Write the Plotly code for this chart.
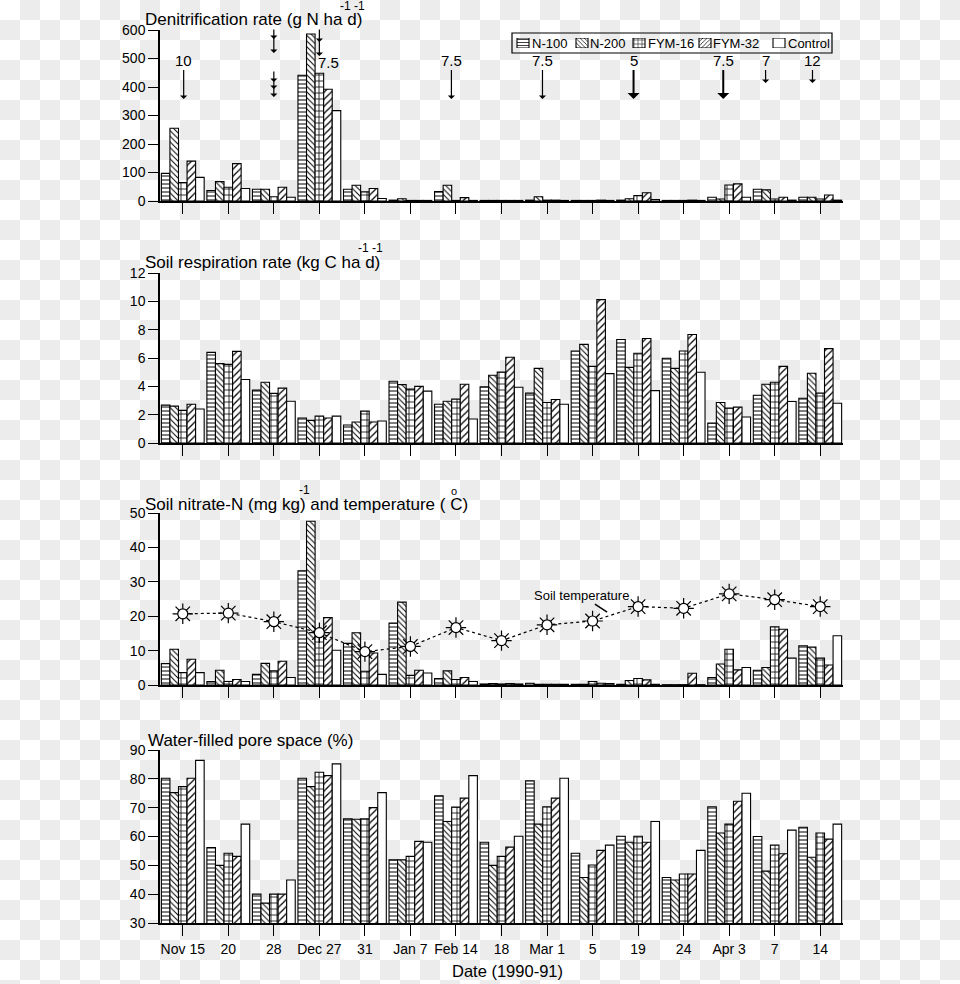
import base64
import plotly.graph_objects as go
from plotly.subplots import make_subplots

# ---------------- data ----------------
dates = ["Nov 15", "20", "28", "Dec 27", "31", "Jan 7", "Feb 14", "18",
         "Mar 1", "5", "19", "24", "Apr 3", "7", "14"]
treatments = ["N-100", "N-200", "FYM-16", "FYM-32", "Control"]

denit_n100 = [97, 37, 41, 441, 41, 3, 33, 2, 3, 2, 3, 2, 13, 41, 13]
denit_n200 = [255, 68, 41, 586, 55, 8, 55, 2, 15, 2, 8, 2, 7, 39, 13]
denit_fym16 = [65, 48, 15, 448, 32, 2, 2, 2, 3, 2, 19, 2, 56, 7, 7]
denit_fym32 = [140, 131, 48, 392, 44, 2, 12, 2, 3, 3, 29, 3, 60, 13, 21]
denit_control = [83, 44, 13, 317, 9, 2, 2, 2, 2, 2, 5, 2, 13, 3, 3]

resp_n100 = [2.67, 6.4, 3.73, 1.76, 1.27, 4.36, 2.74, 3.96, 3.52, 6.49, 7.31, 5.98, 1.4, 3.37, 3.16]
resp_n200 = [2.6, 5.6, 4.29, 1.6, 1.48, 4.12, 2.95, 4.78, 5.27, 6.96, 5.34, 5.27, 2.86, 4.15, 4.92]
resp_fym16 = [2.3, 5.55, 3.5, 1.9, 2.25, 3.8, 3.1, 5.0, 2.86, 5.41, 6.33, 6.49, 2.46, 4.29, 3.52]
resp_fym32 = [2.74, 6.47, 3.87, 1.76, 1.48, 4.0, 4.15, 6.05, 3.07, 10.12, 7.38, 7.66, 2.53, 5.41, 6.66]
resp_control = [2.4, 4.48, 2.95, 1.9, 1.55, 3.66, 1.69, 3.94, 2.74, 4.9, 3.7, 4.99, 1.83, 2.93, 2.81]

nitr_n100 = [6.2, 1.0, 3.1, 33.2, 12.1, 18.0, 1.9, 0.3, 0.5, 0.2, 0.2, 0.1, 2.2, 4.3, 11.4]
nitr_n200 = [10.4, 4.3, 6.3, 47.6, 15.2, 24.1, 4.1, 0.4, 0.2, 0.2, 1.3, 0.1, 6.1, 5.1, 11.0]
nitr_fym16 = [3.6, 1.0, 4.1, 14.1, 4.0, 2.8, 1.6, 0.3, 0.2, 1.0, 1.9, 0.1, 10.4, 16.9, 7.8]
nitr_fym32 = [7.5, 1.6, 6.9, 19.6, 9.3, 4.3, 2.2, 0.4, 0.2, 0.5, 1.5, 3.4, 4.4, 16.2, 5.8]
nitr_control = [3.6, 1.0, 2.2, 10.1, 3.1, 3.5, 1.0, 0.3, 0.2, 0.4, 0.2, 0.1, 5.1, 7.8, 14.3]

soil_temp = [20.7, 20.9, 18.4, 15.2, 9.7, 11.2, 16.7, 12.9, 17.5, 18.6, 22.8, 22.3, 26.5, 24.8, 22.8]

wfps_n100 = [80.2, 56.2, 40.0, 80.2, 66.1, 51.9, 74.1, 58.0, 79.3, 54.2, 60.1, 45.8, 70.3, 60.0, 63.2]
wfps_n200 = [75.2, 50.0, 36.9, 77.3, 66.0, 51.9, 65.2, 50.0, 64.3, 45.8, 58.0, 44.9, 61.2, 48.0, 52.8]
wfps_fym16 = [77.3, 54.2, 40.0, 82.3, 66.1, 53.1, 70.2, 53.1, 70.3, 50.1, 60.1, 47.0, 64.3, 57.0, 61.2]
wfps_fym32 = [80.2, 53.1, 40.0, 81.1, 70.0, 58.3, 73.3, 56.3, 73.3, 55.2, 58.0, 47.0, 72.2, 54.0, 59.1]
wfps_control = [86.4, 64.3, 44.9, 85.2, 75.2, 58.0, 81.1, 60.1, 80.2, 57.0, 65.2, 55.2, 75.0, 62.2, 64.3]

# fertiliser application events (position on date axis, label)
event_pos = [0.02, 5.9, 7.9, 9.9, 11.87, 12.8, 13.83]
event_label = ["10", "7.5", "7.5", "5", "7.5", "7", "12"]

panels = [
    [denit_n100, denit_n200, denit_fym16, denit_fym32, denit_control],
    [resp_n100, resp_n200, resp_fym16, resp_fym32, resp_control],
    [nitr_n100, nitr_n200, nitr_fym16, nitr_fym32, nitr_control],
    [wfps_n100, wfps_n200, wfps_fym16, wfps_fym32, wfps_control],
]

# ---------------- styling ----------------
W, H = 960, 984
L, R = 160, 117
PW = W - L - R
FONT = "Liberation Sans, Arial, sans-serif"
patterns = ["-", "\\", "+", "/", ""]
psizes = [4, 4, 6, 5, 6]


def px2x(px):
    return (px - L) / PW


def py2y(py):
    return 1 - py / H


# pixel extents of each panel (top, bottom)
panel_px = [(30, 201), (273, 443), (513, 685), (750, 923)]
yranges = [[0, 600], [0, 12], [0, 50], [30, 90]]
ydticks = [100, 2, 10, 10]

fig = make_subplots(rows=4, cols=1)


def pmarker(shape, size):
    return dict(color="white", line=dict(color="black", width=1.1),
                pattern=dict(shape=shape, fgcolor="black", bgcolor="white",
                             size=size, solidity=0.25))


for p, series in enumerate(panels):
    for i, vals in enumerate(series):
        fig.add_trace(
            go.Bar(x=dates, y=vals, name=treatments[i], showlegend=False,
                   marker=pmarker(patterns[i], psizes[i])),
            row=p + 1, col=1,
        )

# soil temperature (sun-like markers on dotted line)
fig.add_trace(go.Scatter(x=dates, y=soil_temp, mode="lines",
                         line=dict(color="black", width=1.2, dash="dot"),
                         showlegend=False), row=3, col=1)
fig.add_trace(go.Scatter(x=dates, y=soil_temp, mode="markers",
                         marker=dict(symbol="asterisk-open", size=17, color="black",
                                     line=dict(color="black", width=1.2)),
                         showlegend=False), row=3, col=1)
fig.add_trace(go.Scatter(x=dates, y=soil_temp, mode="markers",
                         marker=dict(symbol="circle", size=10, color="white",
                                     line=dict(color="black", width=1.2)),
                         showlegend=False), row=3, col=1)

for p in range(4):
    top, bot = panel_px[p]
    xa = "xaxis" if p == 0 else f"xaxis{p + 1}"
    ya = "yaxis" if p == 0 else f"yaxis{p + 1}"
    fig.layout[xa].update(
        type="category", range=[-0.5, 14.5], domain=[0, 1],
        showline=True, linecolor="black", linewidth=1.5,
        ticks="outside", ticklen=11, tickwidth=1.2, tickcolor="black",
        showgrid=False, zeroline=False, automargin=False,
        showticklabels=(p == 3),
        tickfont=dict(family=FONT, size=14, color="black"),
        ticklabelstandoff=1,
    )
    fig.layout[ya].update(
        domain=[py2y(bot), py2y(top)], range=yranges[p], dtick=ydticks[p],
        showline=True, linecolor="black", linewidth=1.5,
        ticks="outside", ticklen=10, tickwidth=1.2, tickcolor="black",
        showgrid=False, zeroline=False, automargin=False,
        tickfont=dict(family=FONT, size=14, color="black"),
    )

# ---------- custom compact legend (keys drawn as tiny patterned bars) ----------
LEG_L, LEG_R, LEG_T, LEG_B = 512, 832, 33, 53
key_left = [517, 576, 633, 699, 773]
text_left = [531, 589, 647, 712, 787]
KEY_W = 12
fig.add_trace(go.Bar(
    x=[k + KEY_W / 2 for k in key_left], y=[1] * 5, width=[KEY_W] * 5,
    xaxis="x5", yaxis="y5", showlegend=False, hoverinfo="skip",
    marker=dict(color="white", line=dict(color="black", width=1.1),
                pattern=dict(shape=patterns, fgcolor="black", bgcolor="white",
                             size=[3, 3, 4, 3, 4], solidity=0.25)),
))
fig.update_layout(
    xaxis5=dict(domain=[px2x(LEG_L), px2x(LEG_R)], range=[LEG_L, LEG_R],
                visible=False, anchor="y5", fixedrange=True),
    yaxis5=dict(domain=[py2y(48), py2y(38)], range=[0, 1],
                visible=False, anchor="x5", fixedrange=True),
)

ann = []


def txt(text, px, py, size=17, xanchor="left"):
    ann.append(dict(text=text, x=px2x(px), y=py2y(py), xref="paper", yref="paper",
                    xanchor=xanchor, yanchor="middle", showarrow=False,
                    borderpad=0,
                    font=dict(family=FONT, size=size, color="black")))


for t, lx in zip(treatments, text_left):
    txt(t, lx, 43.5, size=13)

# panel titles
txt("Denitrification rate (g N ha d)", 144, 20)
txt("-1 -1", 339, 5.5, size=12)
txt("Soil respiration rate (kg C ha d)", 144, 262)
txt("-1 -1", 357, 248, size=12)
txt("Soil nitrate-N (mg kg) and temperature ( C)", 144, 504)
txt("-1", 298, 489.5, size=12)
txt("o", 450, 490.5, size=11)
txt("Water-filled pore space (%)", 147, 740)
txt("Date (1990-91)", 507, 971, size=16.5, xanchor="center")


# fertiliser arrows in the denitrification panel
def yv(py):
    return (panel_px[0][1] - py) * 600 / (panel_px[0][1] - panel_px[0][0])


for pos, lab in zip(event_pos, event_label):
    short = lab in ("7", "12")
    bold = lab in ("5",) or pos == 11.87
    tip = 83 if short else 99
    ann.append(dict(text=lab, x=pos, y=yv(tip), xref="x", yref="y",
                    showarrow=True, ax=0, ay=60 - tip, arrowhead=1,
                    arrowsize=1, arrowwidth=2 if bold else 1.2,
                    arrowcolor="black",
                    font=dict(family=FONT, size=15, color="black")))

# multiple-head arrows (no label)
multi = [(2.0, 28, [53, 39]), (2.0, 70, [97, 89, 82]), (3.0, 28, [56, 42])]
for pos, start, heads in multi:
    ann.append(dict(text="", x=pos, y=yv(heads[0]), xref="x", yref="y",
                    showarrow=True, ax=0, ay=start - heads[0], arrowhead=1,
                    arrowsize=1, arrowwidth=1.2, arrowcolor="black"))
    for h in heads[1:]:
        ann.append(dict(text="", x=pos, y=yv(h), xref="x", yref="y",
                        showarrow=True, ax=0, ay=-4, arrowhead=1,
                        arrowsize=1, arrowwidth=1.2, arrowcolor="black"))
ann.append(dict(text="7.5", x=3.2, y=yv(62), xref="x", yref="y", showarrow=False,
                font=dict(family=FONT, size=15, color="black")))

# soil temperature label
ann.append(dict(text="Soil temperature", x=9.32, y=21.2, xref="x3", yref="y3",
                showarrow=True, ax=-26, ay=-17, arrowhead=0, arrowwidth=1.5,
                arrowcolor="black", font=dict(family=FONT, size=13, color="black")))

# checkerboard background
svg = ('<svg xmlns="http://www.w3.org/2000/svg" width="960" height="984">'
       '<defs><pattern id="c" width="40" height="40" patternUnits="userSpaceOnUse">'
       '<rect width="40" height="40" fill="#ffffff"/>'
       '<rect x="20" width="20" height="20" fill="#ececec"/>'
       '<rect y="20" width="20" height="20" fill="#ececec"/>'
       '</pattern></defs><rect width="960" height="984" fill="url(#c)"/></svg>')
src = "data:image/svg+xml;base64," + base64.b64encode(svg.encode()).decode()

fig.update_layout(
    width=W, height=H, template=None, showlegend=False,
    margin=dict(l=L, r=R, t=0, b=0, pad=0),
    paper_bgcolor="white", plot_bgcolor="rgba(0,0,0,0)",
    barmode="group", bargap=0.06, bargroupgap=0.0,
    font=dict(family=FONT, color="black"),
    annotations=ann,
    shapes=[dict(type="rect", xref="paper", yref="paper",
                 x0=px2x(LEG_L), x1=px2x(LEG_R), y0=py2y(LEG_B), y1=py2y(LEG_T),
                 line=dict(color="black", width=1.2))],
    images=[dict(source=src, xref="paper", yref="paper", x=-L / PW, y=1,
                 sizex=W / PW, sizey=1, xanchor="left", yanchor="top",
                 sizing="stretch", layer="below")],
)

fig.write_html("out.html")
